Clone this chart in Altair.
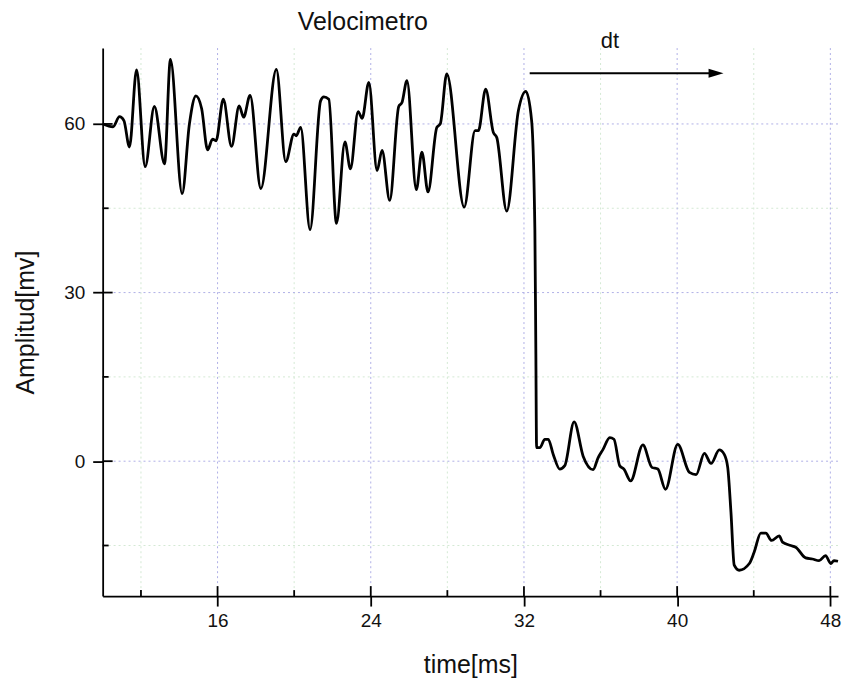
import altair as alt
import pandas as pd

# ---- data ----
time_ms = [10.02, 10.54, 10.88, 11.11, 11.40, 11.77, 12.22, 12.70, 13.23, 13.54,
           14.15, 14.53, 14.87, 15.17, 15.48, 15.74, 15.92, 16.30, 16.73, 17.13,
           17.36, 17.70, 18.26, 19.07, 19.56, 19.99, 20.11, 20.34, 20.83, 21.38,
           21.55, 21.81, 22.21, 22.65, 22.94, 23.34, 23.55, 23.90, 24.33, 24.59,
           24.99, 25.46, 25.63, 25.89, 26.38, 26.67, 26.99, 27.45, 27.63, 27.97,
           28.88, 29.45, 29.62, 30.00, 30.40, 30.58, 31.10, 31.71, 32.10, 32.40,
           32.57, 32.62,
           32.66, 32.83, 33.09, 33.27, 33.53, 33.87, 34.13, 34.62, 35.09, 35.61,
           35.87, 36.13, 36.48, 36.70, 37.00, 37.22, 37.57, 38.21, 38.68, 38.99,
           39.39, 40.03, 40.64, 40.99, 41.42, 41.77, 42.20, 42.46, 42.64, 42.81,
           42.98, 43.24, 43.77, 44.02, 44.37, 44.63, 44.93, 45.33, 45.50, 45.93,
           46.19, 46.71, 47.06, 47.41, 47.75, 48.02, 48.19, 48.40]

amplitude_mv = [60.0, 59.5, 61.3, 60.6, 55.9, 69.6, 52.4, 63.1, 52.9, 71.5,
                47.6, 60.0, 65.0, 62.7, 55.4, 57.3, 57.0, 64.4, 56.0, 63.2,
                61.2, 65.1, 48.5, 69.7, 53.3, 58.2, 57.9, 59.4, 41.2, 64.1,
                64.8, 64.4, 42.3, 56.8, 52.0, 62.2, 61.0, 67.4, 51.7, 55.3,
                46.4, 63.1, 63.8, 67.7, 48.3, 55.0, 47.9, 59.4, 60.0, 68.9,
                45.2, 58.8, 58.8, 66.2, 58.5, 57.6, 44.5, 62.4, 65.8, 60.6,
                41.1, 20.0,
                2.4, 2.4, 3.9, 3.9, 1.2, -1.4, -0.8, 7.0, 0.9, -1.5,
                0.6, 2.1, 4.2, 3.9, -0.8, -1.4, -3.5, 2.9, -1.1, -1.4,
                -5.0, 3.0, -2.0, -2.4, 1.4, -0.4, 2.0, 1.2, -1.1, -9.1,
                -18.5, -19.4, -18.2, -16.2, -12.8, -12.8, -14.1, -13.3, -14.4, -15.0,
                -15.3, -17.2, -17.4, -17.7, -16.8, -18.2, -17.7, -17.8]

assert len(time_ms) == len(amplitude_mv)

x_major = [16, 24, 32, 40, 48]
x_minor = [12, 20, 28, 36, 44]
y_major = [0, 30, 60]
y_minor = [-15, 15, 45]

arrow_start = [32.3]
arrow_end = [42.03]
arrow_level = [69.0]

title_text = "Velocimetro"
arrow_text = "dt"
x_title = "time[ms]"
y_title = "Amplitud[mv]"

# ---- chart ----
W, H = 738, 550
FONT = "Liberation Sans"
xs = alt.Scale(domain=[10, 48.4], nice=False, zero=False)
ys = alt.Scale(domain=[-24, 73.5], nice=False, zero=False)

x_axis = alt.Axis(values=x_major, title=x_title, grid=False, labelFlush=False,
                  tickSize=10, labelPadding=6, titlePadding=22)
y_axis = alt.Axis(values=y_major, title=y_title, grid=False, labelFlush=False,
                  tickSize=10, labelPadding=8, titlePadding=25)


def X(field):
    return alt.X(f"{field}:Q", scale=xs, axis=x_axis)


def Y(field):
    return alt.Y(f"{field}:Q", scale=ys, axis=y_axis)


signal = pd.DataFrame({"t": time_ms, "a": amplitude_mv})
xmaj = pd.DataFrame({"t": x_major})
xmin = pd.DataFrame({"t": x_minor})
ymaj = pd.DataFrame({"a": y_major})
ymin = pd.DataFrame({"a": y_minor})
arrow = pd.DataFrame({"t": arrow_start, "t2": arrow_end, "a": arrow_level})


def vgrid(df, color):
    return alt.Chart(df).mark_rule(color=color, strokeDash=[2, 3], strokeWidth=1).encode(x=X("t"))


def hgrid(df, color):
    return alt.Chart(df).mark_rule(color=color, strokeDash=[2, 3], strokeWidth=1).encode(y=Y("a"))


grid = [vgrid(xmin, "#d4e9d4"), hgrid(ymin, "#d4e9d4"),
        vgrid(xmaj, "#b0b0e6"), hgrid(ymaj, "#b0b0e6")]

line = alt.Chart(signal).mark_line(color="black", strokeWidth=2.8, interpolate="monotone").encode(
    x=X("t"), y=Y("a"))

# inward tick parts (Origin style)
xin_major = alt.Chart(xmaj).mark_rule(color="black", strokeWidth=1.8).encode(
    x=X("t"), y=alt.value(H), y2=alt.value(H - 10))
xin_minor = alt.Chart(xmin).mark_rule(color="black", strokeWidth=1.8).encode(
    x=X("t"), y=alt.value(H), y2=alt.value(H - 6))
yin_major = alt.Chart(ymaj).mark_rule(color="black", strokeWidth=1.8).encode(
    y=Y("a"), x=alt.value(0), x2=alt.value(10))
yin_minor = alt.Chart(ymin).mark_rule(color="black", strokeWidth=1.8).encode(
    y=Y("a"), x=alt.value(0), x2=alt.value(6))

arrow_line = alt.Chart(arrow).mark_rule(color="black", strokeWidth=2).encode(
    x=X("t"), x2="t2:Q", y=Y("a"))
arrow_head = alt.Chart(arrow).mark_point(
    shape="M-1,-0.6L1,0L-1,0.6Z", filled=True, color="black", opacity=1, size=225
).encode(x=alt.X("t2:Q", scale=xs, axis=x_axis), y=Y("a"))

title_mark = alt.Chart(pd.DataFrame({"s": [title_text]})).mark_text(
    font=FONT, fontSize=25, color="#111", align="center", baseline="alphabetic"
).encode(text="s:N", x=alt.value(261), y=alt.value(-18))
dt_mark = alt.Chart(pd.DataFrame({"s": [arrow_text]})).mark_text(
    font=FONT, fontSize=22, color="#111", align="center", baseline="alphabetic"
).encode(text="s:N", x=alt.value(509), y=alt.value(0))

chart = alt.layer(
    *grid, line, xin_major, xin_minor, yin_major, yin_minor,
    arrow_line, arrow_head, title_mark, dt_mark
).properties(
    width=W, height=H,
    background="white",
    autosize=alt.AutoSizeParams(type="none"),
    padding={"left": 95, "top": 39, "right": 4, "bottom": 82},
).configure_view(stroke=None).configure_axis(
    domainColor="black", domainWidth=1.8, tickColor="black", tickWidth=1.8,
    labelFont=FONT, labelFontSize=19, labelColor="#111",
    titleFont=FONT, titleFontSize=25, titleFontWeight="normal", titleColor="#111",
)

chart.save("out.html", embed_options={"renderer": "svg", "actions": False})
